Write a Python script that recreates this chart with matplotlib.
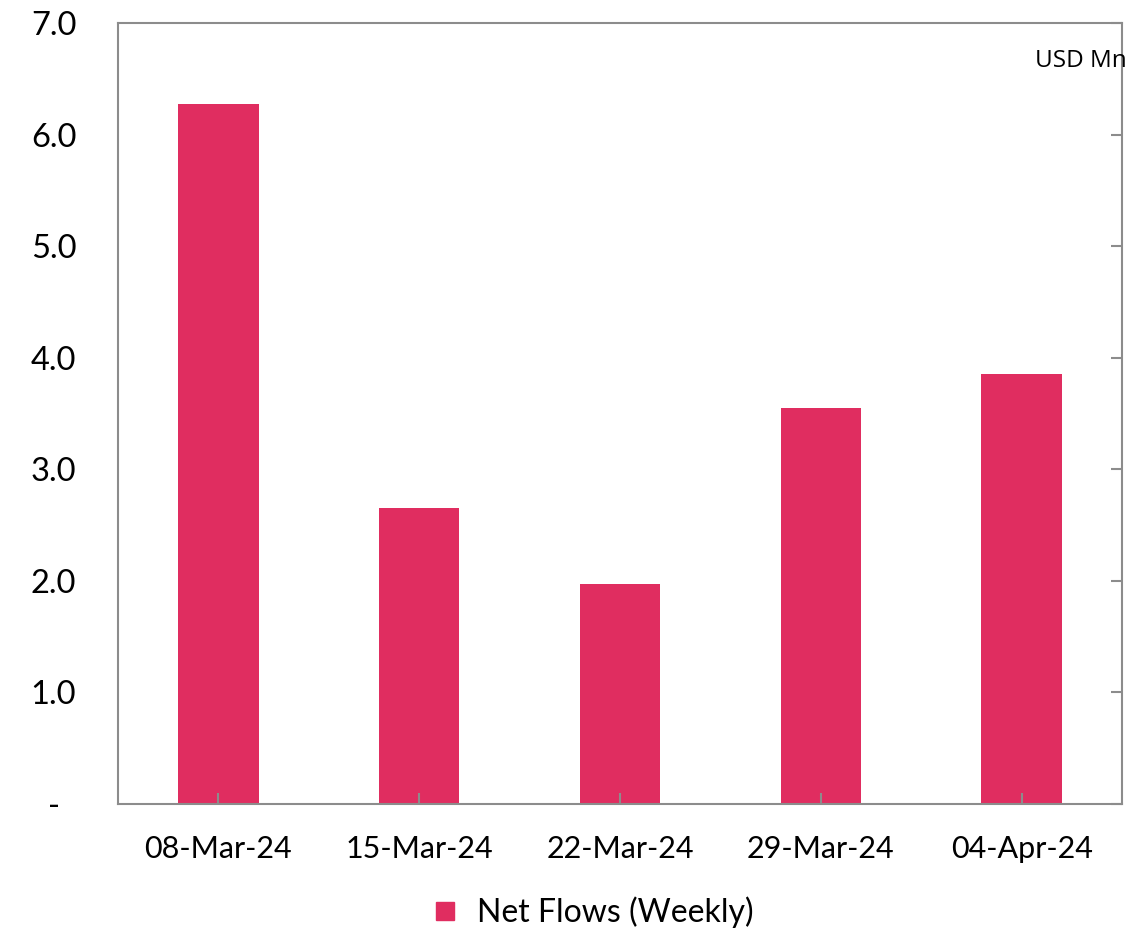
import matplotlib.pyplot as plt
from matplotlib.ticker import FuncFormatter
from matplotlib.lines import Line2D

# weekly net flows, USD Mn
weeks = ["08-Mar-24", "15-Mar-24", "22-Mar-24", "29-Mar-24", "04-Apr-24"]
net_flows = [6.27, 2.65, 1.97, 3.55, 3.85]

bar_color = "#E02D60"
spine_color = "#8C8C8C"

plt.rcParams['font.family'] = ['Lato', 'DejaVu Sans']

fig = plt.figure(figsize=(11.48, 9.33), dpi=100)
ax = fig.add_axes([0.1028, 0.1383, 0.8746, 0.837])

ax.bar(range(len(weeks)), net_flows, width=0.4, color=bar_color)

ax.set_xlim(-0.5, len(weeks) - 0.5)
ax.set_ylim(0, 7)
ax.set_yticks([0, 1, 2, 3, 4, 5, 6, 7])
# accounting style: zero shown as a dash
ax.yaxis.set_major_formatter(FuncFormatter(lambda v, p: "-  " if v == 0 else f"{v:.1f}"))
ax.set_xticks(range(len(weeks)))
ax.set_xticklabels(weeks)

for s in ax.spines.values():
    s.set_color(spine_color)
    s.set_linewidth(1.5)

# tick marks sit on the right spine, labels stay on the left
ax.tick_params(axis='y', left=False, right=True, labelleft=True, direction='in',
               length=8, width=1.5, color=spine_color, pad=30, labelsize=23.5)
ax.tick_params(axis='x', direction='in', length=8, width=1.5, color=spine_color,
               pad=22, labelsize=22)

ax.text(1.005, 0.952, "USD Mn", transform=ax.transAxes, ha='right', va='center',
        fontsize=17.5, family=['Open Sans', 'DejaVu Sans'])

handle = Line2D([], [], marker='s', linestyle='none', color=bar_color, markersize=13)
fig.legend([handle], ["Net Flows (Weekly)"], loc='center', bbox_to_anchor=(0.515, 0.022),
           frameon=False, handletextpad=0.5, handlelength=1.0, prop={'size': 23})

fig.savefig("out.png", dpi=100)
